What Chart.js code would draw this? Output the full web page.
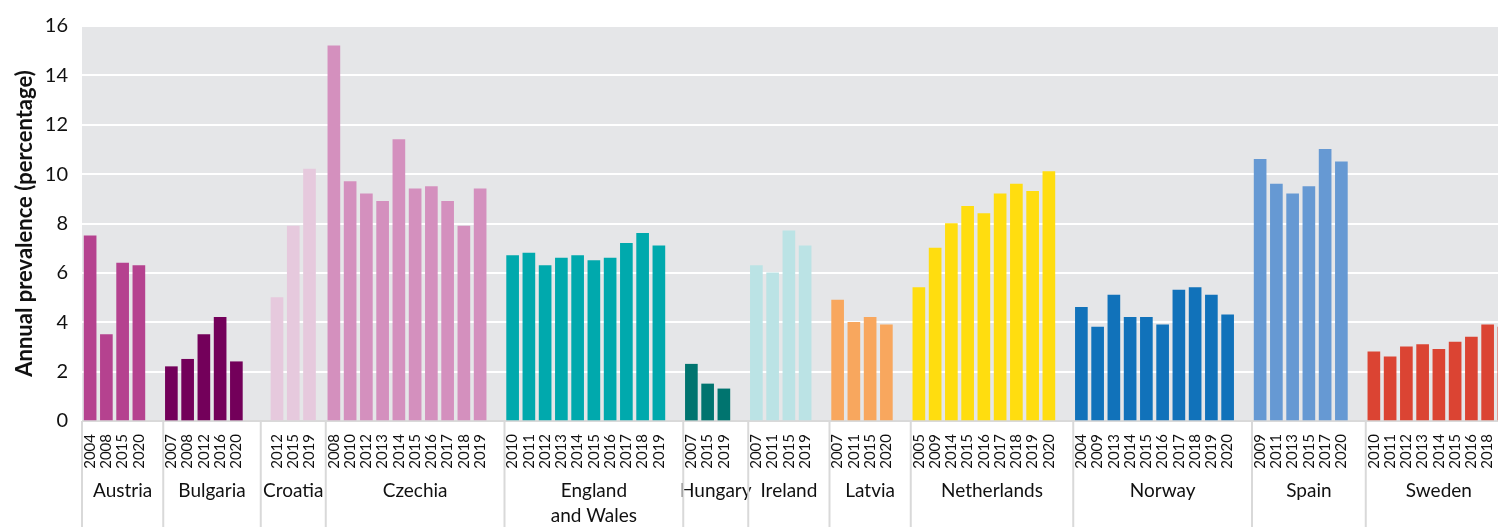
<!DOCTYPE html>
<html>
<head>
<meta charset="utf-8">
<script src="https://cdn.jsdelivr.net/npm/chart.js@4.4.1/dist/chart.umd.min.js"></script>
<style>
  html, body { margin: 0; padding: 0; background: #fff; overflow: hidden; }
  #wrap { width: 1543px; height: 527px; position: relative; }
</style>
</head>
<body>
<div id="wrap"><canvas id="chart"></canvas></div>
<script>
// Annual prevalence (percentage), by country and survey year
const countries = ['Austria', 'Bulgaria', 'Croatia', 'Czechia', 'England and Wales', 'Hungary',
  'Ireland', 'Latvia', 'Netherlands', 'Norway', 'Spain', 'Sweden'];

const austriaYears = ['2004', '2008', '2015', '2020'];
const austriaValues = [7.5, 3.5, 6.4, 6.3];
const bulgariaYears = ['2007', '2008', '2012', '2016', '2020'];
const bulgariaValues = [2.2, 2.5, 3.5, 4.2, 2.4];
const croatiaYears = ['2012', '2015', '2019'];
const croatiaValues = [5.0, 7.9, 10.2];
const czechiaYears = ['2008', '2010', '2012', '2013', '2014', '2015', '2016', '2017', '2018', '2019'];
const czechiaValues = [15.2, 9.7, 9.2, 8.9, 11.4, 9.4, 9.5, 8.9, 7.9, 9.4];
const englandYears = ['2010', '2011', '2012', '2013', '2014', '2015', '2016', '2017', '2018', '2019'];
const englandValues = [6.7, 6.8, 6.3, 6.6, 6.7, 6.5, 6.6, 7.2, 7.6, 7.1];
const hungaryYears = ['2007', '2015', '2019'];
const hungaryValues = [2.3, 1.5, 1.3];
const irelandYears = ['2007', '2011', '2015', '2019'];
const irelandValues = [6.3, 6.0, 7.7, 7.1];
const latviaYears = ['2007', '2011', '2015', '2020'];
const latviaValues = [4.9, 4.0, 4.2, 3.9];
const netherlandsYears = ['2005', '2009', '2014', '2015', '2016', '2017', '2018', '2019', '2020'];
const netherlandsValues = [5.4, 7.0, 8.0, 8.7, 8.4, 9.2, 9.6, 9.3, 10.1];
const norwayYears = ['2004', '2009', '2013', '2014', '2015', '2016', '2017', '2018', '2019', '2020'];
const norwayValues = [4.6, 3.8, 5.1, 4.2, 4.2, 3.9, 5.3, 5.4, 5.1, 4.3];
const spainYears = ['2009', '2011', '2013', '2015', '2017', '2020'];
const spainValues = [10.6, 9.6, 9.2, 9.5, 11.0, 10.5];
const swedenYears = ['2010', '2011', '2012', '2013', '2014', '2015', '2016', '2018', '2019'];
const swedenValues = [2.8, 2.6, 3.0, 3.1, 2.9, 3.2, 3.4, 3.9, 3.8];

const yAxisTicks = [0, 2, 4, 6, 8, 10, 12, 14, 16];

const countryColors = ['#b5428f', '#73005a', '#e6c9dd', '#d490be', '#00a9ad', '#00746f',
  '#bbe3e5', '#f8a75e', '#ffdd0f', '#1172ba', '#6699d3', '#db4433'];

const groups = [
  [austriaYears, austriaValues], [bulgariaYears, bulgariaValues], [croatiaYears, croatiaValues],
  [czechiaYears, czechiaValues], [englandYears, englandValues], [hungaryYears, hungaryValues],
  [irelandYears, irelandValues], [latviaYears, latviaValues], [netherlandsYears, netherlandsValues],
  [norwayYears, norwayValues], [spainYears, spainValues], [swedenYears, swedenValues],
];

// the x axis runs in half slots; each bar takes two, each group ends with an empty slot
// (Croatia's bars sit centred in their group in the original)
const centredGroups = ['Croatia'];

const yearLabels = [''];
const values = [null];
const barColors = [null];
const countryLabels = [''];
const boundaries = [0];
let pos = 0;
countries.forEach((name, g) => {
  const [years, vals] = groups[g];
  const last = g === countries.length - 1;
  const span = 2 * (years.length + (last ? 0 : 1));
  const lead = centredGroups.includes(name) ? 1 : 0;
  for (let k = 0; k < span; k++) {
    yearLabels.push('');
    values.push(null);
    barColors.push(null);
    countryLabels.push('');
  }
  years.forEach((y, i) => {
    const idx = pos + lead + 1 + 2 * i;
    yearLabels[idx] = y;
    values[idx] = vals[i];
    barColors[idx] = countryColors[g];
  });
  countryLabels[pos + span / 2] = name === 'England and Wales' ? ['England', 'and Wales'] : name;
  pos += span;
  boundaries.push(pos);
});

const FONT = 'Lato, "Open Sans", sans-serif';
const TEXT = '#111111';

// grey plot background and the group separators under the axis
const decor = {
  id: 'decor',
  beforeDraw(chart) {
    const { ctx, chartArea } = chart;
    ctx.save();
    ctx.fillStyle = '#e5e6e8';
    ctx.fillRect(chartArea.left, chartArea.top, chartArea.right - chartArea.left, chartArea.bottom - chartArea.top);
    ctx.restore();
  },
  afterDraw(chart) {
    const { ctx, chartArea } = chart;
    const xs = chart.scales.x;
    ctx.save();
    ctx.strokeStyle = '#d9d9d9';
    ctx.lineWidth = 2;
    for (const b of boundaries) {
      const x = xs.getPixelForValue(b);
      ctx.beginPath();
      ctx.moveTo(x, chartArea.bottom);
      ctx.lineTo(x, chart.height);
      ctx.stroke();
    }
    ctx.restore();
  },
};

const ctx = document.getElementById('chart').getContext('2d');
const chart = new Chart(ctx, {
  type: 'bar',
  data: {
    labels: yearLabels,
    datasets: [{
      data: values,
      backgroundColor: barColors,
      barThickness: 12,
      borderWidth: 0,
    }],
  },
  options: {
    responsive: true,
    maintainAspectRatio: false,
    animation: false,
    layout: { padding: { top: 23, right: 3, left: 0, bottom: 0 } },
    plugins: { legend: { display: false }, tooltip: { enabled: false } },
    scales: {
      x: {
        type: 'category',
        position: 'bottom',
        weight: 1,
        offset: false,
        grid: { display: false, drawTicks: false },
        border: { display: false },
        ticks: {
          autoSkip: false,
          minRotation: 90,
          maxRotation: 90,
          padding: 13,
          color: TEXT,
          font: { family: FONT, size: 15 },
        },
        afterFit: (s) => { s.height = 50; },
      },
      country: {
        type: 'category',
        position: 'bottom',
        weight: 2,
        labels: countryLabels,
        offset: false,
        grid: { display: false, drawTicks: false },
        border: { display: false },
        ticks: {
          autoSkip: false,
          minRotation: 0,
          maxRotation: 0,
          padding: 8,
          color: TEXT,
          font: { family: FONT, size: 19, lineHeight: 1.3 },
        },
        afterFit: (s) => { s.height = 56; },
      },
      y: {
        min: 0,
        max: 16,
        afterBuildTicks: (s) => { s.ticks = yAxisTicks.map((v) => ({ value: v })); },
        grid: {
          color: (c) => (c.tick && c.tick.value === 0 ? '#d9d9d9' : '#ffffff'),
          lineWidth: 2,
          drawTicks: false,
        },
        border: { display: false },
        ticks: {
          padding: 14,
          color: TEXT,
          font: { family: FONT, size: 20 },
        },
        title: {
          display: true,
          text: 'Annual prevalence (percentage)',
          color: TEXT,
          font: { family: FONT, size: 22, weight: 'bold' },
          padding: { top: 12, bottom: 0 },
        },
        afterFit: (s) => { s.width = 82; },
      },
    },
  },
  plugins: [decor],
});
</script>
</body>
</html>
